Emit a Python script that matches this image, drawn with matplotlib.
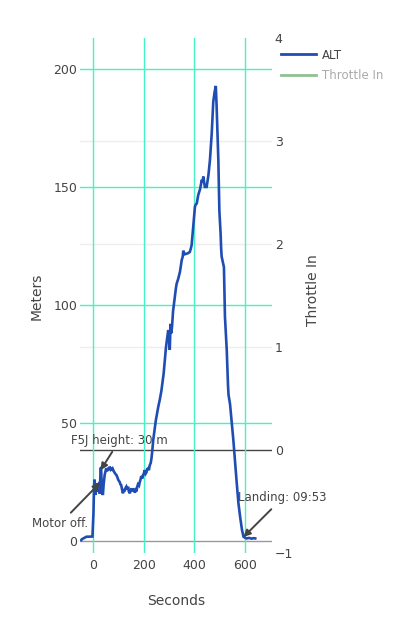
import matplotlib
matplotlib.use("Agg")
import matplotlib.pyplot as plt
from matplotlib.lines import Line2D

# ---- data ----
seconds = [-45, -42, -25, -1, 3, 5, 7, 9, 11, 14, 17, 20, 22, 24, 26, 28, 31, 33, 36, 40,
           43, 47, 50, 53, 56, 60, 63, 66, 70, 73, 76, 79, 83, 86, 90, 93, 97, 100, 103, 106,
           109, 112, 116, 119, 122, 125, 129, 132, 135, 139, 142, 146, 149, 152, 156, 159,
           162, 166, 169, 172, 175, 178, 182, 185, 188, 191, 195, 198, 201, 204, 208, 211,
           214, 218, 221, 224, 228, 231, 234, 238, 243, 248, 253, 258, 264, 270, 274, 279,
           284, 288, 293, 297, 300, 303, 306, 309, 312, 316, 320, 323, 327, 330, 336, 343,
           350, 354, 356, 359, 362, 369, 376, 382, 386, 389, 395, 402, 405, 409, 415, 422,
           429, 432, 435, 438, 441, 448, 452, 455, 461, 468, 474, 479, 484, 487, 491, 494,
           498, 503, 505, 507, 510, 512, 516, 520, 527, 532, 534, 540, 547, 553, 560, 566,
           573, 580, 587, 593, 600, 606, 615, 625, 632, 639]
alt = [0.4, 0.8, 1.8, 1.9, 12, 22, 26, 23.7, 19.5, 23, 24.4, 22, 21, 24, 25, 20, 30.8, 31, 21, 19.5,
       24, 28, 29.5, 30.8, 29.5, 31, 30, 31.5, 30.5, 31.2, 29.8, 30.5, 29.5, 29, 28.3, 28, 27, 26, 25.5, 25,
       24, 23.7, 21.5, 20.2, 22, 21, 22.5, 23, 21.8, 23, 21, 20.2, 21.5, 22.3, 21, 22.3,
       21.5, 20.5, 21.5, 21, 23, 24, 23.5, 25, 26, 27.5, 26.5, 28, 28.5, 30, 28.5, 29,
       30.5, 30.8, 30, 32, 33, 35, 38, 42.8, 47, 51, 54, 57, 60, 63.6, 67, 71,
       77, 82, 86, 89.4, 87, 81, 92, 88, 91, 97.4, 101, 104, 107, 109, 111, 114,
       119, 120.5, 123, 122, 121.5, 121.7, 122, 122.5, 124, 125.4, 133, 141.6, 142.5, 143, 146.6, 149,
       153, 152, 154.4, 152, 150, 150, 153, 155, 161.4, 172.7, 186, 190, 192.8, 185, 172, 161.4,
       140, 130, 124, 120.5, 119, 118, 116, 95, 81, 66, 62, 58, 49.8, 42.8, 33, 25,
       16, 10, 4.7, 1.8, 1.3, 1.1, 1.3, 1.0, 1.2, 1.1]

x_ticks = [0, 200, 400, 600]
y_ticks = [0, 50, 100, 150, 200]
y2_ticks = [-1, 0, 1, 2, 3, 4]

annotations = [
    ("F5J height: 30 m", 31, 30, 19, 30),
    ("Motor off.", 28, 24.6, -40, -41),
    ("Landing: 09:53", 593, 1.7, 39, 39),
]

GREEN = '#45f2c6'
TXT = '#444444'
W, H = 398, 633

fig = plt.figure(figsize=(W / 100, H / 100), dpi=100)
ax = fig.add_axes([80 / W, (H - 553) / H, 192 / W, 515 / H])
ax2 = ax.twinx()

ax.set_xlim(-50, 705)
ax.set_ylim(-5.08, 213.1)
ax2.set_ylim(-1, 4)

for a in (ax, ax2):
    for s in a.spines.values():
        s.set_visible(False)
    a.tick_params(length=0, labelsize=9, colors=TXT)
    a.patch.set_visible(False)

ax.set_zorder(2)
ax2.set_zorder(1)

ax.set_xticks(x_ticks)
ax.set_yticks(y_ticks)
ax2.set_yticks(y2_ticks)
ax2.set_yticklabels(['\u22121', '0', '1', '2', '3', '4'])
ax.tick_params(axis='y', pad=2)
ax.tick_params(axis='x', pad=4)
ax2.tick_params(axis='y', pad=2)

# gridlines
for v in [1, 2, 3]:
    ax2.axhline(v, color='#eeeeee', lw=1, zorder=0)
ax2.axhline(0, color='#444444', lw=1, zorder=1)
for v in y_ticks[1:]:
    ax.axhline(v, color=GREEN, lw=1, zorder=0)
ax.axhline(0, color='#999999', lw=1, zorder=0)
for v in x_ticks:
    ax.axvline(v, color=GREEN, lw=1, zorder=0)

ax.plot(seconds, alt, color='#1f4db3', lw=1.9, zorder=3, solid_joinstyle='miter')

for txt, xx, yy, dx, dy in annotations:
    ax.annotate(txt, xy=(xx, yy), xytext=(dx, dy), textcoords='offset pixels',
                ha='center', va='center', fontsize=8.5, color=TXT, zorder=5,
                arrowprops=dict(arrowstyle='-|>', color='#444444', lw=1.4,
                                mutation_scale=10, shrinkA=2, shrinkB=0))

ax.set_ylabel('Meters', fontsize=10, color=TXT)
ax.yaxis.set_label_coords((44 - 80) / 192, (553 - 296) / 515)
ax2.set_ylabel('Throttle In', fontsize=10, color=TXT)
ax2.yaxis.set_label_coords((306 - 80) / 192, (553 - 290) / 515)
ax.set_xlabel('Seconds', fontsize=10, color=TXT)
ax.xaxis.set_label_coords((176 - 80) / 192, (553 - 594) / 515)

handles = [Line2D([], [], color='#1f4db3', lw=2),
           Line2D([], [], color='#90c090', lw=2)]
leg = fig.legend(handles, ['ALT', 'Throttle In'], loc='upper left',
                 bbox_to_anchor=(270 / W, 1 - 38 / H), frameon=False, fontsize=8.5,
                 handlelength=3.0, handletextpad=0.5, labelspacing=0.6)
leg.get_texts()[0].set_color(TXT)
leg.get_texts()[1].set_color('#aaaaaa')

fig.savefig('out.png', dpi=100)
